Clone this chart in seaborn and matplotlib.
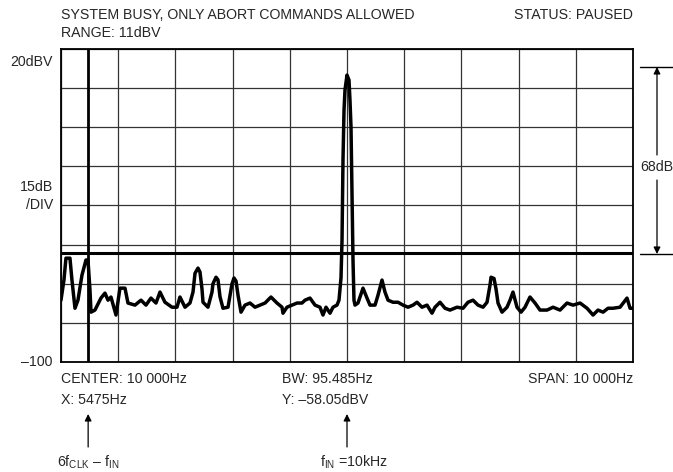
import numpy as np
import pandas as pd
import seaborn as sns
import matplotlib.pyplot as plt
from matplotlib.lines import Line2D
from matplotlib.patches import FancyArrowPatch

# ---------------------------------------------------------------
# Dados (analisador de espectro)
# ---------------------------------------------------------------
freq_hz = [5000, 5052, 5087, 5157, 5192, 5245, 5297, 5367, 5437, 5472,
           5507, 5525, 5594, 5699, 5769, 5822, 5874, 5962, 6031, 6119,
           6171, 6294, 6399, 6486, 6573, 6661, 6731, 6818, 6941, 7028,
           7080, 7168, 7255, 7308, 7343, 7395, 7430, 7465, 7483, 7570,
           7640, 7657, 7710, 7745, 7780, 7832, 7920, 7990, 8025, 8060,
           8095, 8147, 8217, 8304, 8392, 8479, 8567, 8671, 8776, 8864,
           8881, 8951, 9039, 9126, 9213, 9266, 9353, 9441, 9528, 9580,
           9633, 9703, 9755, 9825, 9860, 9895, 9913, 9930, 9948, 9965,
           10000, 10035, 10052, 10070, 10087, 10105, 10122, 10140, 10192, 10280,
           10350, 10402, 10490, 10542, 10612, 10664, 10717, 10804, 10892, 10979,
           11067, 11154, 11224, 11311, 11399, 11486, 11539, 11626, 11713, 11801,
           11923, 12028, 12115, 12203, 12290, 12378, 12448, 12500, 12518, 12570,
           12605, 12640, 12710, 12797, 12850, 12902, 12972, 13042, 13112, 13199,
           13287, 13374, 13497, 13602, 13724, 13846, 13951, 14074, 14196, 14301,
           14388, 14476, 14563, 14650, 14773, 14895, 14948, 15000]
level_dbv = [-76.3, -68.6, -60.2, -60.2, -68.6, -79.4, -76.3, -66.7, -60.9, -60.9,
             -72.4, -80.9, -80.1, -75.5, -73.6, -76.3, -75.1, -82.0, -71.7, -71.7,
             -77.4, -78.2, -76.3, -78.2, -75.5, -77.4, -73.2, -77.1, -79.0, -79.0,
             -75.1, -79.0, -77.4, -73.2, -66.0, -64.0, -65.5, -72.0, -77.1, -79.0,
             -73.2, -70.0, -67.5, -68.5, -75.0, -79.4, -79.0, -70.0, -67.8, -69.0,
             -74.4, -80.9, -78.2, -77.4, -79.0, -78.2, -77.4, -75.1, -77.4, -79.0,
             -81.3, -79.0, -78.2, -77.4, -77.4, -76.3, -75.5, -78.2, -79.0, -82.0,
             -79.0, -81.3, -79.0, -78.2, -76.3, -67.8, -53.3, -22.6, -3.4, 4.3,
             10.0, 8.1, 0.4, -9.9, -35.2, -60.9, -76.3, -78.2, -77.4, -71.7,
             -75.5, -78.2, -78.2, -74.4, -68.6, -73.2, -76.3, -77.1, -77.1, -78.2,
             -79.0, -78.2, -77.1, -79.0, -78.2, -81.3, -79.0, -77.1, -79.4, -80.1,
             -79.0, -79.4, -77.1, -76.3, -78.2, -79.0, -77.1, -70.5, -67.5, -68.0,
             -72.0, -77.4, -80.9, -79.0, -76.3, -73.2, -79.0, -80.9, -79.0, -75.1,
             -77.4, -80.1, -80.1, -79.0, -80.1, -77.4, -78.2, -77.4, -79.4, -82.0,
             -80.1, -80.9, -79.4, -79.4, -79.0, -75.5, -79.4, -79.4]

x_grid_hz = list(range(5000, 15001, 1000))
y_grid_dbv = list(range(-100, 21, 15))
marker_x_hz = 5475
marker_y_dbv = -58.05
fin_hz = 10000

df = pd.DataFrame({"freq": freq_hz, "level": level_dbv})

# ---------------------------------------------------------------
# Figura
# ---------------------------------------------------------------
sns.set_style("white")
plt.rcParams["font.family"] = ["Liberation Sans", "DejaVu Sans"]
plt.rcParams["mathtext.fontset"] = "custom"
plt.rcParams["mathtext.rm"] = "Liberation Sans"

fs = 10.2
fig = plt.figure(figsize=(6.73, 4.72), dpi=100)
ax = fig.add_axes([0.0906, 0.2331, 0.8500, 0.6631])

sns.lineplot(data=df, x="freq", y="level", ax=ax, sort=False, estimator=None,
             color="black", linewidth=2.5, zorder=5)

ax.set_xlim(5000, 15000)
ax.set_ylim(-100, 20)
ax.set_xticks(x_grid_hz)
ax.set_yticks(y_grid_dbv)
ax.set_xticklabels([])
ax.set_yticklabels([])
ax.tick_params(length=0)
ax.set_xlabel("")
ax.set_ylabel("")
ax.grid(True, color="#333333", linewidth=0.9)
for s in ax.spines.values():
    s.set_color("black")
    s.set_linewidth(1.3)

# marcadores
ax.axvline(marker_x_hz, color="black", linewidth=2.0, zorder=4)
ax.axhline(marker_y_dbv, color="black", linewidth=2.2, zorder=4)

# textos superiores
fig.text(61 / 673, 1 - 15 / 472, "SYSTEM BUSY, ONLY ABORT COMMANDS ALLOWED",
         fontsize=fs, ha="left", va="center")
fig.text(61 / 673, 1 - 33 / 472, "RANGE: 11dBV", fontsize=fs, ha="left", va="center")
fig.text(633 / 673, 1 - 15 / 472, "STATUS: PAUSED", fontsize=fs, ha="right", va="center")

# rótulos do eixo y
fig.text(53 / 673, 1 - 62 / 472, "20dBV", fontsize=fs, ha="right", va="center")
fig.text(53 / 673, 1 - 187 / 472, "15dB", fontsize=fs, ha="right", va="center")
fig.text(53 / 673, 1 - 205 / 472, "/DIV", fontsize=fs, ha="right", va="center")
fig.text(52 / 673, 1 - 362 / 472, "–100", fontsize=fs, ha="right", va="center")

# textos inferiores
fig.text(61 / 673, 1 - 379 / 472, "CENTER: 10 000Hz", fontsize=fs, ha="left", va="center")
fig.text(61 / 673, 1 - 400 / 472, "X: 5475Hz", fontsize=fs, ha="left", va="center")
fig.text(282 / 673, 1 - 379 / 472, "BW: 95.485Hz", fontsize=fs, ha="left", va="center")
fig.text(282 / 673, 1 - 400 / 472, "Y: –58.05dBV", fontsize=fs, ha="left", va="center")
fig.text(633 / 673, 1 - 379 / 472, "SPAN: 10 000Hz", fontsize=fs, ha="right", va="center")

# setas inferiores
for xv in (marker_x_hz, fin_hz):
    ax.annotate("", xy=(xv, 1 - 414 / 472), xytext=(xv, 1 - 447 / 472),
                xycoords=("data", "figure fraction"),
                textcoords=("data", "figure fraction"),
                arrowprops=dict(arrowstyle="-|>", color="black", lw=0.9,
                                mutation_scale=10, shrinkA=0, shrinkB=0),
                annotation_clip=False)

ax.annotate(r"6f$_{\rm CLK}$ – f$_{\rm IN}$", xy=(marker_x_hz, 1 - 462 / 472),
            xycoords=("data", "figure fraction"), ha="center", va="center",
            fontsize=fs, annotation_clip=False)
ax.annotate(r"f$_{\rm IN}$ =10kHz", xy=(fin_hz + 120, 1 - 462 / 472),
            xycoords=("data", "figure fraction"), ha="center", va="center",
            fontsize=fs, annotation_clip=False)

# cota de 68dB à direita
xa = 657 / 673
y_top = 1 - 67 / 472
y_bot = 1 - 254 / 472
for yy in (y_top, y_bot):
    fig.add_artist(Line2D([640 / 673, 1.0], [yy, yy], color="black", lw=1.0,
                          transform=fig.transFigure))
fig.add_artist(FancyArrowPatch((xa, 1 - 155 / 472), (xa, y_top),
                               transform=fig.transFigure, arrowstyle="-|>",
                               mutation_scale=10, color="black", lw=0.9,
                               shrinkA=0, shrinkB=0))
fig.add_artist(FancyArrowPatch((xa, 1 - 180 / 472), (xa, y_bot),
                               transform=fig.transFigure, arrowstyle="-|>",
                               mutation_scale=10, color="black", lw=0.9,
                               shrinkA=0, shrinkB=0))
fig.text(640 / 673, 1 - 167 / 472, "68dB", fontsize=fs, ha="left", va="center")

fig.savefig("out.png", dpi=100, facecolor="white")
plt.close()
